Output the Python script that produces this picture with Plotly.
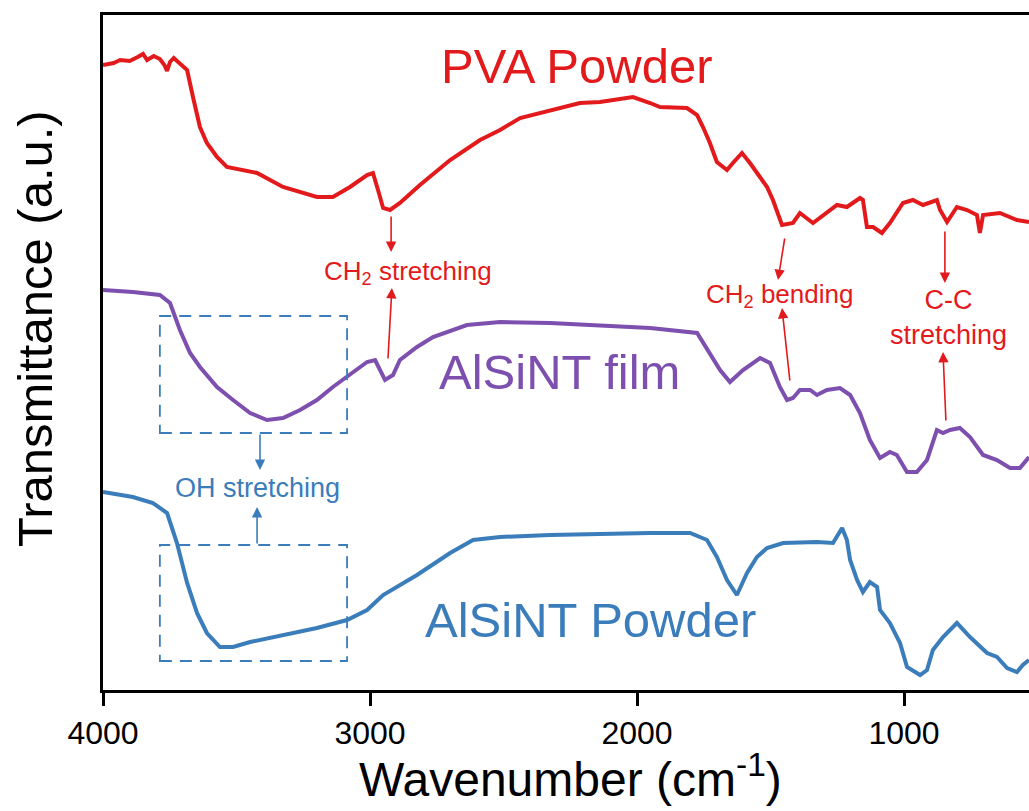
import plotly.graph_objects as go

# ---------------- data ----------------
pva_wn = [4000, 3960, 3936, 3900, 3870, 3850, 3835, 3810, 3787, 3770, 3760, 3749, 3735, 3712,
          3685, 3663, 3637, 3611, 3573, 3536, 3476, 3423,
          3326, 3199, 3139, 3075, 3011, 2989, 2970, 2951, 2925, 2888, 2813, 2700, 2588, 2513,
          2438, 2326, 2214, 2139, 2015, 1951, 1914, 1813, 1775, 1753, 1727, 1701, 1663, 1641,
          1607, 1577, 1539, 1513, 1491, 1457, 1416, 1390, 1341, 1289, 1251, 1214, 1165, 1154,
          1139, 1116, 1083, 1053, 1004, 967, 929, 877, 865, 839, 802, 764, 727, 716, 704, 641,
          577, 532]
pva_t = [62.5, 62.7, 63.0, 62.9, 63.3, 63.6, 63.0, 63.4, 63.1, 62.5, 61.9, 62.8, 63.2, 62.7,
         62.0, 59.3, 56.3, 54.7, 53.3, 52.3, 52.0, 51.7,
         50.3, 49.3, 49.3, 50.3, 51.5, 51.7, 50.0, 48.2, 48.0, 48.7, 50.5, 53.0, 55.0, 56.0,
         57.2, 58.0, 58.7, 58.8, 59.3, 58.7, 58.3, 58.2, 57.5, 56.3, 54.7, 52.8, 52.0, 52.7,
         53.7, 52.7, 51.3, 50.3, 49.0, 46.5, 46.7, 47.7, 46.7, 47.7, 48.5, 48.3, 49.2, 49.0,
         46.3, 46.3, 45.7, 46.7, 48.7, 49.0, 48.5, 49.0, 48.0, 46.8, 48.3, 48.0, 47.5, 45.7,
         47.5, 47.7, 47.0, 46.8]

film_wn = [4000, 3888, 3787, 3749, 3712, 3674, 3637, 3573, 3513, 3449, 3386, 3326, 3262, 3199,
           3139, 3075, 3011, 2981, 2955, 2944, 2914, 2888, 2824, 2764, 2637, 2513, 2326, 2139,
           1951, 1775, 1727, 1689, 1652, 1603, 1539, 1502, 1465, 1438, 1416, 1390, 1352, 1326,
           1289, 1240, 1202, 1165, 1128, 1090, 1053, 1027, 989, 952, 914, 877, 854, 828, 791,
           753, 704, 652, 603, 566, 532]
film_t = [40.0, 39.8, 39.5, 38.7, 36.0, 33.7, 32.3, 30.3, 29.0, 27.7, 27.0, 27.2, 28.0, 29.0,
          30.3, 31.5, 32.8, 33.0, 31.7, 31.0, 31.5, 33.0, 34.3, 35.3, 36.5, 36.8, 36.7, 36.5,
          36.2, 35.7, 33.7, 32.0, 30.8, 32.0, 33.2, 32.7, 30.3, 29.0, 29.2, 30.0, 30.0, 29.5,
          30.0, 30.2, 29.5, 27.7, 25.0, 23.2, 23.8, 23.5, 21.8, 21.8, 23.0, 26.0, 25.7, 26.0,
          26.2, 25.3, 23.5, 23.0, 22.2, 22.2, 23.3]

pow_wn = [4000, 3888, 3813, 3760, 3723, 3685, 3648, 3611, 3562, 3513, 3449, 3326, 3199, 3086,
          3011, 2951, 2824, 2700, 2614, 2513, 2326, 1951, 1801, 1738, 1701, 1663, 1626, 1588,
          1551, 1513, 1453, 1326, 1266, 1232, 1214, 1202, 1176, 1154, 1128, 1101, 1090, 1053,
          1015, 989, 940, 914, 892, 854, 802, 753, 716, 689, 652, 614, 577, 555, 532]
pow_t = [19.8, 19.3, 18.7, 17.7, 14.7, 10.7, 7.7, 5.7, 4.3, 4.3, 4.8, 5.5, 6.2, 7.0,
         8.0, 9.5, 11.5, 13.7, 15.0, 15.3, 15.5, 15.7, 15.7, 15.0, 13.3, 11.0, 9.5, 11.7,
         13.3, 14.2, 14.7, 14.8, 14.7, 16.2, 15.0, 13.0, 11.0, 9.8, 10.8, 10.3, 8.0, 6.7,
         4.7, 2.3, 1.5, 2.0, 4.0, 5.3, 6.7, 5.3, 4.3, 3.7, 3.3, 2.2, 1.8, 2.5, 3.0]

x_ticks = [4000, 3000, 2000, 1000]
x_tick_labels = ["4000", "3000", "2000", "1000"]

RED = "#E31A1C"
PURPLE = "#7D4FAE"
BLUE = "#3A7DBA"
FONT = "Liberation Sans, Arial, sans-serif"

fig = go.Figure()
fig.add_trace(go.Scatter(x=pva_wn, y=pva_t, mode="lines", line=dict(color=RED, width=4)))
fig.add_trace(go.Scatter(x=film_wn, y=film_t, mode="lines", line=dict(color=PURPLE, width=4)))
fig.add_trace(go.Scatter(x=pow_wn, y=pow_t, mode="lines", line=dict(color=BLUE, width=4)))

# ------------- labels -------------
anns = [
    dict(x=2225, y=62.4, text="PVA Powder", font=dict(size=49, color=RED)),
    dict(x=2292, y=31.8, text="AlSiNT film", font=dict(size=49, color=PURPLE)),
    dict(x=2176, y=7.0, text="AlSiNT Powder", font=dict(size=49, color=BLUE)),
    dict(x=2858, y=41.8, text="CH<sub>2</sub> stretching", font=dict(size=26, color=RED)),
    dict(x=1465, y=39.5, text="CH<sub>2</sub> bending", font=dict(size=26, color=RED)),
    dict(x=835, y=37.3, text="C-C<br>stretching", font=dict(size=27, color=RED)),
    dict(x=3420, y=20.2, text="OH stretching", font=dict(size=27, color=BLUE)),
]
for a in anns:
    fig.add_annotation(xref="x", yref="y", showarrow=False, xanchor="center",
                       yanchor="middle", font_family=FONT, **a)

# axis titles placed as text
fig.add_annotation(xref="paper", yref="paper", x=-0.0734, y=0.535, text="Transmittance (a.u.)",
                   textangle=-90, showarrow=False, xanchor="center", yanchor="middle",
                   font=dict(size=49, family=FONT, color="black"))
fig.add_annotation(xref="paper", yref="paper", x=0.505, y=-0.128,
                   text="Wavenumber (cm<sup>-1</sup>)",
                   showarrow=False, xanchor="center", yanchor="middle",
                   font=dict(size=48, family=FONT, color="black"))

# arrows: (tail_x, tail_y, head_x, head_y, color)
arrows = [
    (2921, 47.5, 2921, 43.8, RED),
    (2933, 33.0, 2918, 40.2, RED),
    (1446, 45.3, 1472, 41.0, RED),
    (1427, 30.8, 1457, 38.2, RED),
    (847, 46.0, 847, 40.7, RED),
    (843, 26.8, 854, 33.8, RED),
    (3412, 25.7, 3412, 22.0, BLUE),
    (3423, 14.5, 3423, 18.3, BLUE),
]
for tx, ty, hx, hy, c in arrows:
    fig.add_annotation(x=hx, y=hy, ax=tx, ay=ty, xref="x", yref="y", axref="x", ayref="y",
                       text="", showarrow=True, arrowhead=2, arrowsize=1.3,
                       arrowwidth=1.6, arrowcolor=c)

# dashed boxes
for y0, y1 in [(25.7, 37.4), (2.9, 14.5)]:
    fig.add_shape(type="rect", xref="x", yref="y", x0=3787, x1=3086, y0=y0, y1=y1,
                  line=dict(color=BLUE, width=1.8, dash="12px,8px"))

fig.update_layout(
    width=1029, height=811,
    margin=dict(l=103, r=0, t=15, b=121),
    plot_bgcolor="white", paper_bgcolor="white",
    showlegend=False,
    font=dict(family=FONT, color="black"),
)
fig.update_xaxes(
    range=[4000, 532], showgrid=False, zeroline=False,
    showline=True, linecolor="black", linewidth=3, mirror=True,
    ticks="outside", ticklen=13, tickwidth=2.5, tickcolor="black",
    tickvals=x_ticks, ticktext=x_tick_labels, tickfont=dict(size=32, family=FONT),
)
fig.update_yaxes(
    range=[0, 67.5], showgrid=False, zeroline=False,
    showline=True, linecolor="black", linewidth=3, mirror=False,
    showticklabels=False, ticks="",
)

fig.write_html("out.html")
